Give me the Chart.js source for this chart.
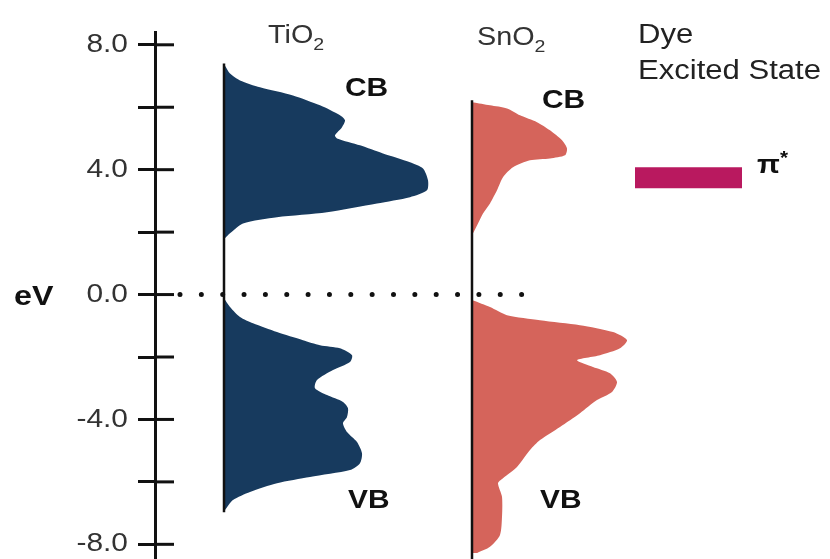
<!DOCTYPE html>
<html><head><meta charset="utf-8">
<script src="https://cdn.jsdelivr.net/npm/chart.js@4.4.0/dist/chart.umd.min.js"></script>
<style>html,body{margin:0;padding:0;background:#fff;}#wrap{width:830px;height:559px;position:relative;}</style>
</head><body><div id="wrap"><canvas id="c"></canvas></div>
<script>
// Energy axis (eV)
const energyMin = -8.47, energyMax = 8.41;
const tickStep = 2, labelStep = 4;

// TiO2 density of states (arbitrary units), conduction band
const tio2CbEnergy = [7.33,7.08,6.86,6.64,6.38,6.06,5.74,5.58,5.36,5.10,5.00,4.78,4.52,4.24,4.04,3.66,3.34,3.12,2.92,2.64,2.48,2.28,1.96,1.80];
const tio2CbDos    = [0.1,0.6,1.6,3.6,6.9,9.6,11.6,12.1,11.8,11.1,11.3,13.6,15.9,18.6,19.9,20.4,20.3,18.6,15.3,10.3,5.3,1.9,0.6,0.1];
// TiO2 valence band
const tio2VbEnergy = [-0.12,-0.40,-0.72,-0.92,-1.20,-1.46,-1.62,-1.72,-1.94,-2.16,-2.42,-2.74,-3.00,-3.22,-3.44,-3.64,-3.92,-4.12,-4.40,-4.72,-5.08,-5.40,-5.62,-5.84,-6.04,-6.32,-6.58,-6.90];
const tio2VbDos    = [0.0,0.6,1.6,2.9,5.3,7.9,9.6,11.6,12.8,12.6,10.9,9.3,9.1,10.3,11.9,12.4,12.3,11.9,12.3,13.3,13.8,13.6,12.6,8.6,5.3,2.6,0.9,0.1];
// SnO2 conduction band
const sno2CbEnergy = [6.16,6.06,5.96,5.74,5.52,5.26,4.94,4.68,4.46,4.36,4.30,4.08,3.76,3.34,2.92,2.60,2.28,1.96];
const sno2CbDos    = [0.1,1.8,3.5,4.8,6.5,7.8,9.0,9.5,9.3,7.8,5.8,4.1,3.1,2.5,1.8,1.1,0.6,0.1];
// SnO2 valence band
const sno2VbEnergy = [-0.18,-0.40,-0.66,-0.82,-0.98,-1.20,-1.46,-1.72,-1.94,-2.10,-2.32,-2.52,-2.80,-3.12,-3.38,-3.80,-4.24,-4.66,-4.98,-5.52,-5.88,-6.04,-6.48,-7.12,-7.70,-8.08,-8.28];
const sno2VbDos    = [0.1,1.8,3.5,6.8,10.8,14.1,15.5,14.8,12.8,10.5,12.1,13.8,14.5,14.0,12.5,10.8,8.8,6.8,5.8,4.5,3.1,2.6,3.0,3.0,2.8,1.8,0.5];
// extent of each material's baseline (eV)
const tio2Extent = [7.40, -6.97];
const sno2Extent = [6.22, -9.0];
// Dye excited state
const dyeLabel = 'π*';
const dyeEnergy = 3.74;
// Fermi level
const fermiEnergy = 0.0;

// layout constants (horizontal placement, in hidden x-axis units)
const X_MAX = 67.5, TIO2_BASE = 6.9, SNO2_BASE = 31.7;
const DYE_X = [48.0, 58.7], FERMI_X = [2.5, 36.8];
const FONT = "'Liberation Sans', Arial, Helvetica, sans-serif";
const SX = 1.15; // horizontal text stretch of the original artwork
const NAVY = '#173a5e', SALMON = '#d5645b', DYE = '#b9195f';

function formatTick(v) { return Math.abs(v % labelStep) < 1e-9 ? v.toFixed(1) : ''; }

function band(en, dos, base, color) {
  return {
    data: en.map((e, i) => ({x: base + dos[i], y: e})),
    borderWidth: 0, pointRadius: 0, tension: 0.25,
    backgroundColor: color, borderColor: color,
    fill: {value: base}
  };
}
function vline(base, ext, w) {
  return {data: [{x: base, y: ext[0]}, {x: base, y: ext[1]}], borderColor: '#111', borderWidth: w, pointRadius: 0, fill: false};
}

const datasets = [
  vline(TIO2_BASE, tio2Extent, 2.5),
  vline(SNO2_BASE, sno2Extent, 2.5),
  band(tio2CbEnergy, tio2CbDos, TIO2_BASE, NAVY),
  band(tio2VbEnergy, tio2VbDos, TIO2_BASE, NAVY),
  band(sno2CbEnergy, sno2CbDos, SNO2_BASE, SALMON),
  band(sno2VbEnergy, sno2VbDos, SNO2_BASE, SALMON),
  {data: [{x: DYE_X[0], y: dyeEnergy}, {x: DYE_X[1], y: dyeEnergy}], borderColor: DYE, borderWidth: 21, borderCapStyle: 'butt', pointRadius: 0, fill: false},
  {data: [{x: FERMI_X[0], y: fermiEnergy}, {x: FERMI_X[1], y: fermiEnergy}], borderColor: '#111', borderWidth: 5, borderCapStyle: 'round', borderDash: [0, 21.35], pointRadius: 0, fill: false}
];

const overlay = {
  id: 'overlay',
  afterDraw(chart) {
    const ctx = chart.ctx, ys = chart.scales.y, left = chart.chartArea.left;
    ctx.save();
    // inward half of the tick marks
    ctx.strokeStyle = '#111'; ctx.lineWidth = 3;
    ys.ticks.forEach(t => {
      const p = ys.getPixelForValue(t.value);
      ctx.beginPath(); ctx.moveTo(left, p); ctx.lineTo(left + 19, p); ctx.stroke();
    });
    function txt(s, x, y, size, bold, color, align, base) {
      ctx.save();
      ctx.font = (bold ? 'bold ' : '') + size + 'px ' + FONT;
      ctx.fillStyle = color;
      ctx.textAlign = align || 'left';
      ctx.textBaseline = base || 'alphabetic';
      ctx.translate(x, y); ctx.scale(SX, 1);
      ctx.fillText(s, 0, 0);
      const w = ctx.measureText(s).width * SX;
      ctx.restore();
      return w;
    }
    function sub(main, s, x, y, size, color) {
      const w = txt(main, x, y, size, false, color);
      txt(s, x + w, y + 7, Math.round(size * 0.68), false, color);
    }
    // tick labels
    ys.ticks.forEach(t => {
      const lab = formatTick(t.value);
      if (lab) txt(lab, left - 27, ys.getPixelForValue(t.value), 26, false, '#333', 'right', 'middle');
    });
    txt('eV', 14, 305, 28, true, '#111');
    sub('TiO', '2', 268, 43, 25, '#333');
    sub('SnO', '2', 477, 45, 25, '#333');
    txt('Dye', 638, 43, 27, false, '#222');
    txt('Excited State', 638, 79, 27, false, '#222');
    txt('CB', 345, 96, 26, true, '#111');
    txt('CB', 542, 108, 26, true, '#111');
    txt('VB', 348, 508, 26, true, '#111');
    txt('VB', 540, 508, 26, true, '#111');
    const w = txt(dyeLabel.charAt(0), 757, 173, 26, true, '#111');
    txt(dyeLabel.slice(1), 757 + w, 164, 18, true, '#111');
    ctx.restore();
  }
};

new Chart(document.getElementById('c'), {
  type: 'line',
  data: {datasets},
  options: {
    indexAxis: 'y',
    responsive: true, maintainAspectRatio: false, animation: false,
    layout: {padding: {top: 32, left: 0, right: 0, bottom: 0}},
    plugins: {legend: {display: false}, tooltip: {enabled: false}},
    scales: {
      x: {type: 'linear', display: false, min: 0, max: X_MAX},
      y: {
        type: 'linear', position: 'left', min: energyMin, max: energyMax,
        ticks: {
          display: false, stepSize: tickStep, includeBounds: false,
          callback: v => formatTick(v)
        },
        grid: {drawOnChartArea: false, drawTicks: true, tickLength: 17, color: '#111', lineWidth: 3},
        border: {display: true, color: '#111', width: 3},
        afterFit(s) { s.width = 155; s.paddingTop = 0; s.paddingBottom = 0; }
      }
    }
  },
  plugins: [overlay]
});
</script></body></html>
